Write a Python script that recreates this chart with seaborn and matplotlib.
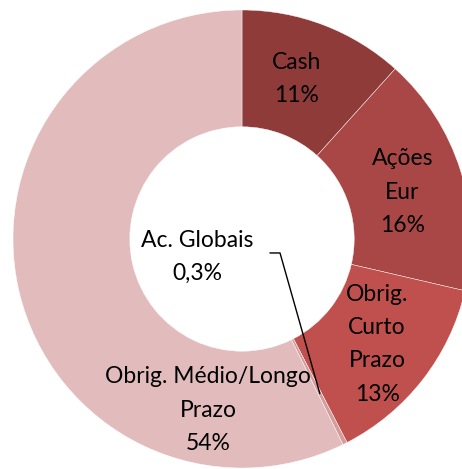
import matplotlib.pyplot as plt
import seaborn as sns
import numpy as np

# Dados da carteira
categorias = ['Cash', 'Ações\nEur', 'Obrig.\nCurto\nPrazo', 'Ac. Globais', 'Obrig. Médio/Longo\nPrazo']
valores = [11, 16, 13, 0.3, 54]
rotulos_pct = ['11%', '16%', '13%', '0,3%', '54%']
cores = ['#8E3B3A', '#A94746', '#C0504D', '#D49C9B', '#E2BCBC']

sns.set_style('white')
plt.rcParams['font.family'] = ['Lato', 'DejaVu Sans']

W, H = 462, 469
fig = plt.figure(figsize=(W / 100, H / 100), dpi=100)

# Centro do donut e raio em pixels (o gráfico é cortado à direita e em baixo)
cx, cy, R = 242, 239, 229
ax = fig.add_axes([(cx - R) / W, (H - cy - R) / H, 2 * R / W, 2 * R / H])

wedges, _ = ax.pie(valores, colors=cores, startangle=90, counterclock=False,
                   radius=1, wedgeprops=dict(width=0.51, edgecolor='white', linewidth=0.3))
ax.set_xlim(-1, 1)
ax.set_ylim(-1, 1)
ax.set_aspect('equal')
ax.axis('off')

# Posições dos rótulos
posicoes = [(0.24, 0.70), (0.70, 0.205), (0.59, -0.46), (-0.197, -0.079), (-0.148, -0.747)]
for nome, pct, (x, y) in zip(categorias, rotulos_pct, posicoes):
    ax.text(x, y, f'{nome}\n{pct}', ha='center', va='center', fontsize=16.5,
            linespacing=1.72, color='black')

# Linha de chamada para Ac. Globais
w = wedges[3]
ang = np.deg2rad((w.theta1 + w.theta2) / 2)
r = 0.756
ex, ey = r * np.cos(ang), r * np.sin(ang)
ax.plot([0.122, 0.166, ex], [-0.061, -0.061, ey], color='black', lw=1)

fig.savefig('out.png', dpi=100)
